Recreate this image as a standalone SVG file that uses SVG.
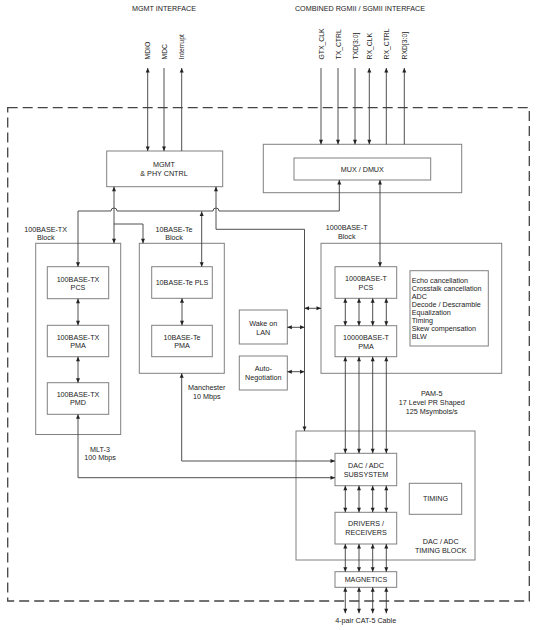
<svg xmlns="http://www.w3.org/2000/svg" width="538" height="630" viewBox="0 0 538 630">
<style>
text{font-family:"Liberation Sans",Arial,sans-serif;font-size:7.2px;fill:#222;}
.c{text-anchor:middle;}
.v{text-anchor:start;font-size:6.8px;}
.box{fill:#fff;stroke:#808080;stroke-width:1;}
.ln{fill:none;stroke:#3c3c3c;stroke-width:0.9;}
.ab{marker-start:url(#ah);marker-end:url(#ah);}
.ae{marker-end:url(#ah);}
.as{marker-start:url(#ah);}
.border{fill:none;stroke:#444;stroke-width:1.3;stroke-dasharray:10 5;}
</style>
<defs>
<marker id="ah" markerUnits="userSpaceOnUse" markerWidth="5" markerHeight="4" refX="4.5" refY="2" orient="auto-start-reverse" overflow="visible">
<path d="M0,0 L4.5,2 L0,4 z" fill="#222"/>
</marker>
</defs>
<rect width="538" height="630" fill="#fff"/>
<rect class="border" x="7.7" y="107.7" width="521.6" height="493.3"/>

<text class="c" x="164" y="11">MGMT INTERFACE</text>
<text class="c" x="360" y="11">COMBINED RGMII / SGMII INTERFACE</text>
<g id="signal-labels">
<text class="v" transform="translate(150.2,59.5) rotate(-90)">MDIO</text>
<text class="v" transform="translate(166.5,59.5) rotate(-90)">MDC</text>
<text class="v" transform="translate(184.2,59.5) rotate(-90)">Interrupt</text>
<text class="v" transform="translate(323.5,59.5) rotate(-90)">GTX_CLK</text>
<text class="v" transform="translate(340.5,59.5) rotate(-90)">TX_CTRL</text>
<text class="v" transform="translate(357.5,59.5) rotate(-90)">TXD[3:0]</text>
<text class="v" transform="translate(371.8,59.5) rotate(-90)">RX_CLK</text>
<text class="v" transform="translate(388.8,59.5) rotate(-90)">RX_CTRL</text>
<text class="v" transform="translate(406.8,59.5) rotate(-90)">RXD[3:0]</text>
</g>

<g id="mgmt"><rect class="box" x="106.7" y="151" width="116" height="35.7"/>
<text class="c" x="164" y="167.2">MGMT</text><text class="c" x="164" y="176">&amp; PHY CNTRL</text></g>

<g id="mux-outer"><rect class="box" x="263.3" y="144.3" width="198.4" height="48.4"/></g>
<g id="mux"><rect class="box" x="294" y="158" width="136.7" height="22"/>
<text class="c" x="362.3" y="171.5">MUX / DMUX</text></g>

<g id="block-100tx"><rect class="box" x="35.7" y="243.3" width="85" height="191.2"/>
<text class="c" x="45.7" y="231.5">100BASE-TX</text><text class="c" x="45.7" y="239.5">Block</text></g>
<g id="pcs-100tx"><rect class="box" x="47.3" y="266.7" width="61.4" height="32"/>
<text class="c" x="78" y="281.5">100BASE-TX</text><text class="c" x="78" y="289.5">PCS</text></g>
<g id="pma-100tx"><rect class="box" x="47.3" y="325.3" width="61.4" height="31.4"/>
<text class="c" x="78" y="339.5">100BASE-TX</text><text class="c" x="78" y="347.5">PMA</text></g>
<g id="pmd-100tx"><rect class="box" x="47.3" y="382.7" width="61.4" height="31.6"/>
<text class="c" x="78" y="397">100BASE-TX</text><text class="c" x="78" y="405">PMD</text></g>

<g id="block-10te"><rect class="box" x="139.3" y="243.3" width="85" height="130"/>
<text class="c" x="174" y="231.5">10BASE-Te</text><text class="c" x="174" y="239.5">Block</text></g>
<g id="pls-10te"><rect class="box" x="151.7" y="266.7" width="60.6" height="31.6"/>
<text class="c" x="182" y="285">10BASE-Te PLS</text></g>
<g id="pma-10te"><rect class="box" x="151.7" y="325.3" width="60.6" height="31.4"/>
<text class="c" x="182" y="339.5">10BASE-Te</text><text class="c" x="182" y="347.5">PMA</text></g>

<g id="wol"><rect class="box" x="239.3" y="310" width="48" height="34"/>
<text class="c" x="263.3" y="325.8">Wake on</text><text class="c" x="263.3" y="335">LAN</text></g>
<g id="autoneg"><rect class="box" x="239.3" y="356" width="48" height="34"/>
<text class="c" x="263.3" y="370.8">Auto-</text><text class="c" x="263.3" y="379.8">Negotiation</text></g>

<g id="block-1000t"><rect class="box" x="321" y="243.3" width="180.7" height="130"/>
<text class="c" x="346.7" y="230.2">1000BASE-T</text><text class="c" x="346.7" y="239.2">Block</text></g>
<g id="pcs-1000t"><rect class="box" x="335" y="266.7" width="61.7" height="31.6"/>
<text class="c" x="366" y="280.8">1000BASE-T</text><text class="c" x="366" y="289.8">PCS</text></g>
<g id="pma-1000t"><rect class="box" x="335" y="325.7" width="61.7" height="31"/>
<text class="c" x="366" y="339.5">10000BASE-T</text><text class="c" x="366" y="348.5">PMA</text></g>
<g id="features"><rect class="box" x="410" y="270.7" width="78.3" height="75.3"/>
<text x="411.7" y="282.8">Echo cancellation</text>
<text x="411.7" y="290.9">Crosstalk cancellation</text>
<text x="411.7" y="298.9">ADC</text>
<text x="411.7" y="307">Decode / Descramble</text>
<text x="411.7" y="315">Equalization</text>
<text x="411.7" y="323.1">Timing</text>
<text x="411.7" y="331.1">Skew compensation</text>
<text x="411.7" y="339.2">BLW</text></g>

<text class="c" x="431.7" y="395.8">PAM-5</text>
<text class="c" x="431.7" y="404.8">17 Level PR Shaped</text>
<text class="c" x="431.7" y="414.2">125 Msymbols/s</text>
<text class="c" x="206.7" y="390.2">Manchester</text>
<text class="c" x="206.7" y="399.2">10 Mbps</text>
<text class="c" x="100" y="451.5">MLT-3</text>
<text class="c" x="100" y="460.2">100 Mbps</text>

<g id="timing-block"><rect class="box" x="296" y="431" width="179" height="129"/>
<text class="c" x="440.7" y="544.2">DAC / ADC</text><text class="c" x="440.7" y="552.5">TIMING BLOCK</text></g>
<g id="dac-adc"><rect class="box" x="335" y="453.3" width="61.7" height="32.4"/>
<text class="c" x="366" y="467.5">DAC / ADC</text><text class="c" x="366" y="476.5">SUBSYSTEM</text></g>
<g id="timing"><rect class="box" x="409.3" y="483.3" width="52.4" height="31"/>
<text class="c" x="435.5" y="501.3">TIMING</text></g>
<g id="drivers"><rect class="box" x="335" y="512.3" width="61.7" height="31.7"/>
<text class="c" x="366" y="525.8">DRIVERS /</text><text class="c" x="366" y="534.8">RECEIVERS</text></g>
<g id="magnetics"><rect class="box" x="335" y="571.7" width="61.7" height="15.6"/>
<text class="c" x="366" y="582">MAGNETICS</text></g>
<text class="c" x="365.7" y="623">4-pair CAT-5 Cable</text>

<g id="connectors">
<path class="ln ab" d="M147.7,68 V151"/>
<path class="ln ae" d="M164,68 V151"/>
<path class="ln as" d="M181.7,68 V151"/>
<path class="ln ae" d="M321,68 V144.3"/>
<path class="ln ae" d="M338,68 V144.3"/>
<path class="ln ae" d="M355,68 V144.3"/>
<path class="ln ab" d="M369.3,68 V144.3"/>
<path class="ln as" d="M386.3,68 V144.3"/>
<path class="ln as" d="M404.3,68 V144.3"/>
<path class="ln ab" d="M78,266.7 V211 H111 A3,3 0 0 1 117,211 H213 A3,3 0 0 1 219,211 H339.3 V180"/>
<path class="ln ab" d="M114,186.7 V243.3"/>
<path class="ln ae" d="M114,224 H143 V243.3"/>
<path class="ln ab" d="M216,186.7 V229.3 H304.5 V431"/>
<path class="ln ab" d="M201.7,211.5 V266.7"/>
<path class="ln ab" d="M380,180 V266.7"/>
<path class="ln ab" d="M78,298.7 V325.3"/>
<path class="ln ab" d="M78,356.7 V382.7"/>
<path class="ln ab" d="M182,298.3 V325.3"/>
<path class="ln ab" d="M287.3,327.3 H304.5"/>
<path class="ln ab" d="M287.3,371.7 H304.5"/>
<path class="ln ab" d="M304.5,308.3 H321"/>
<path class="ln ab" d="M181.7,373.3 V461 H335"/>
<path class="ln ab" d="M78,414.3 V477.7 H335"/>
<path class="ln ab" d="M345.3,298.3 V325.7"/><path class="ln ab" d="M359,298.3 V325.7"/><path class="ln ab" d="M372.7,298.3 V325.7"/><path class="ln ab" d="M386.3,298.3 V325.7"/>
<path class="ln ab" d="M345.3,356.7 V453.3"/><path class="ln ab" d="M359,356.7 V453.3"/><path class="ln ab" d="M372.7,356.7 V453.3"/><path class="ln ab" d="M386.3,356.7 V453.3"/>
<path class="ln ab" d="M345.3,485.7 V512.3"/><path class="ln ab" d="M359,485.7 V512.3"/><path class="ln ab" d="M372.7,485.7 V512.3"/><path class="ln ab" d="M386.3,485.7 V512.3"/>
<path class="ln ab" d="M345.3,544 V571.7"/><path class="ln ab" d="M359,544 V571.7"/><path class="ln ab" d="M372.7,544 V571.7"/><path class="ln ab" d="M386.3,544 V571.7"/>
<path class="ln ab" d="M345.3,587.3 V613.3"/><path class="ln ab" d="M359,587.3 V613.3"/><path class="ln ab" d="M372.7,587.3 V613.3"/><path class="ln ab" d="M386.3,587.3 V613.3"/>
</g>
</svg>
